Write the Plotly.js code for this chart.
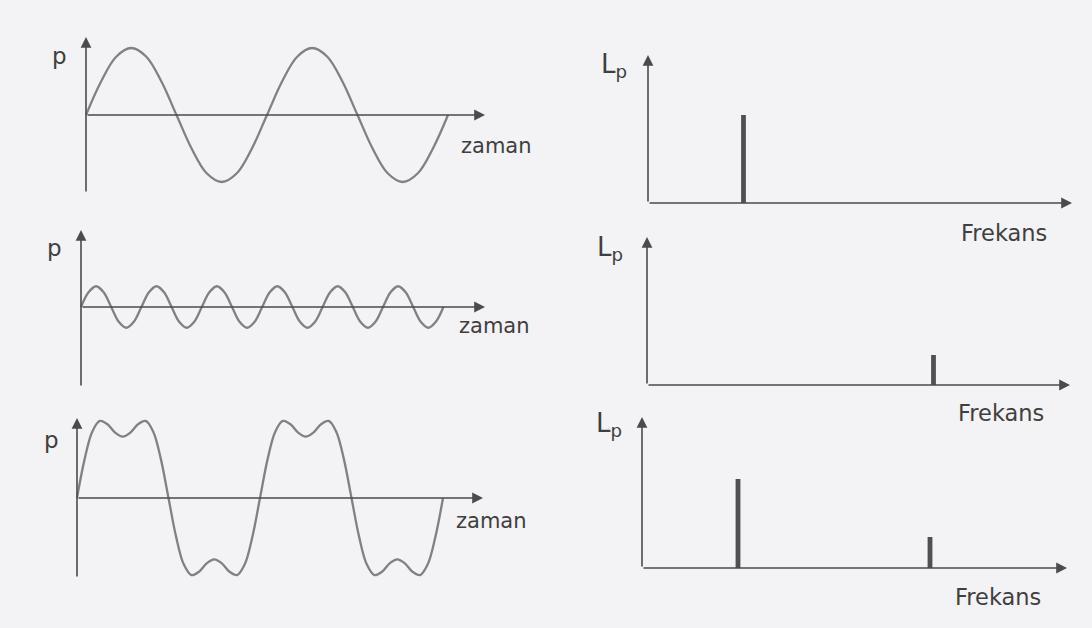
<!DOCTYPE html>
<html>
<head>
<meta charset="utf-8">
<script src="https://cdn.plot.ly/plotly-3.0.1.min.js"></script>
<style>
  html, body { margin: 0; padding: 0; background: #f3f2f4; }
  #fig { width: 1092px; height: 628px; }
</style>
</head>
<body>
<div id="fig"></div>
<script>
// ---- waveforms (pressure p versus time) ----
// pure tone, one cycle per 4 time units, sampled every 30 degrees
const toneStep = 4 / 12;
const toneP = [0, 0.5, 0.87, 1, 0.87, 0.5, 0, -0.5, -0.87, -1, -0.87, -0.5,
               0, 0.5, 0.87, 1, 0.87, 0.5, 0, -0.5, -0.87, -1, -0.87, -0.5, 0];

// higher tone, three times the frequency and a smaller amplitude, sampled every 45 degrees
const highStep = (4 / 3) / 8;
const highP = [0, 0.22, 0.31, 0.22, 0, -0.22, -0.31, -0.22,
               0, 0.22, 0.31, 0.22, 0, -0.22, -0.31, -0.22,
               0, 0.22, 0.31, 0.22, 0, -0.22, -0.31, -0.22,
               0, 0.22, 0.31, 0.22, 0, -0.22, -0.31, -0.22,
               0, 0.22, 0.31, 0.22, 0, -0.22, -0.31, -0.22,
               0, 0.22, 0.31, 0.22, 0, -0.22, -0.31, -0.22, 0];

// both tones together, sampled every 15 degrees of the low tone
const mixStep = 4 / 24;
const mixP = [0, 0.58, 0.99, 1.15, 1.10, 0.975, 0.915, 0.975, 1.10, 1.15, 0.99, 0.58,
              0, -0.58, -0.99, -1.15, -1.10, -0.975, -0.915, -0.975, -1.10, -1.15, -0.99, -0.58,
              0, 0.58, 0.99, 1.15, 1.10, 0.975, 0.915, 0.975, 1.10, 1.15, 0.99, 0.58,
              0, -0.58, -0.99, -1.15, -1.10, -0.975, -0.915, -0.975, -1.10, -1.15, -0.99, -0.58, 0];

// ---- spectra (level Lp versus frequency, low tone = 1) ----
const toneFreq = [1];    const toneLp = [88];
const highFreq = [3];    const highLp = [30];
const mixFreq  = [1, 3]; const mixLp  = [89, 31];

// ---- text ----
const pLabel = 'p';
const lpLabel = 'L<sub>p</sub>';
const timeLabel = 'zaman';
const freqLabel = 'Frekans';

// ---- page geometry (pixels) ----
const W = 1092, H = 628;
const FONT = 'DejaVu Sans, Verdana, sans-serif';
const AXIS_COLOR = '#4b4b4b';
const WAVE_COLOR = '#818181';
const TEXT_COLOR = '#3f3f3f';

// each panel: axis origin, pixels per unit, arrow tips and lower end of the vertical axis
const panels = [
  { ox: 86,  oy: 115, sx: 45.25, sy: 67, xTip: 485,  yTip: 37,  yBottom: 193 },
  { ox: 81,  oy: 307, sx: 45.3,  sy: 67, xTip: 485,  yTip: 230, yBottom: 387 },
  { ox: 77,  oy: 498, sx: 45.75, sy: 67, xTip: 483,  yTip: 418, yBottom: 578 },
  { ox: 648, oy: 203, sx: 95.5,  sy: 1,  xTip: 1072, yTip: 55,  yBottom: 203 },
  { ox: 647, oy: 385, sx: 95.5,  sy: 1,  xTip: 1070, yTip: 237, yBottom: 385 },
  { ox: 642, oy: 568, sx: 96,    sy: 1,  xTip: 1067, yTip: 417, yBottom: 568 }
];

const layout = {
  width: W, height: H,
  margin: { l: 0, r: 0, t: 0, b: 0, pad: 0 },
  paper_bgcolor: '#f3f2f4',
  plot_bgcolor: 'rgba(0,0,0,0)',
  showlegend: false,
  annotations: []
};

const PAD = 8;
panels.forEach((p, i) => {
  const n = i === 0 ? '' : String(i + 1);
  const left = p.ox - PAD, right = p.xTip + PAD;
  const top = p.yTip - PAD, bottom = p.yBottom + PAD;
  const hidden = { showgrid: false, zeroline: false, showline: false,
                   showticklabels: false, ticks: '', fixedrange: true };
  layout['xaxis' + n] = Object.assign({}, hidden, {
    domain: [left / W, right / W],
    range: [(left - p.ox) / p.sx, (right - p.ox) / p.sx],
    anchor: 'y' + n
  });
  layout['yaxis' + n] = Object.assign({}, hidden, {
    domain: [1 - bottom / H, 1 - top / H],
    range: [(p.oy - bottom) / p.sy, (p.oy - top) / p.sy],
    anchor: 'x' + n
  });
  const xr = 'x' + n, yr = 'y' + n;
  const arrow = { xref: xr, yref: yr, axref: xr, ayref: yr, text: '', showarrow: true,
                  arrowhead: 2, arrowsize: 1.35, arrowwidth: 1.6, arrowcolor: AXIS_COLOR, standoff: 0 };
  // horizontal axis
  layout.annotations.push(Object.assign({}, arrow, {
    x: (p.xTip - p.ox) / p.sx, y: 0, ax: 0, ay: 0 }));
  // vertical axis
  layout.annotations.push(Object.assign({}, arrow, {
    x: 0, y: (p.oy - p.yTip) / p.sy, ax: 0, ay: (p.oy - p.yBottom) / p.sy }));
});

function label(text, px, py, size, anchor) {
  layout.annotations.push({
    xref: 'paper', yref: 'paper', x: px / W, y: 1 - py / H,
    xanchor: anchor || 'left', yanchor: 'middle', showarrow: false,
    text: text, font: { family: FONT, size: size, color: TEXT_COLOR }
  });
}
label(pLabel, 59, 56, 23, 'center');
label(pLabel, 54, 248, 23, 'center');
label(pLabel, 51, 440, 23, 'center');
label(timeLabel, 459, 146, 21);
label(timeLabel, 457, 326, 21);
label(timeLabel, 454, 521, 21);
label(lpLabel, 614, 66, 26, 'center');
label(lpLabel, 610, 249, 26, 'center');
label(lpLabel, 609, 424, 26, 'center');
label(freqLabel, 1049, 233, 22.5, 'right');
label(freqLabel, 1046, 413, 22.5, 'right');
label(freqLabel, 1043, 597, 22.5, 'right');

function wave(values, step, n) {
  return {
    type: 'scatter', mode: 'lines',
    x: values.map((_, k) => k * step), y: values,
    line: { color: WAVE_COLOR, width: 2.3, shape: 'spline', smoothing: 1 },
    xaxis: 'x' + n, yaxis: 'y' + n, hoverinfo: 'skip', cliponaxis: false
  };
}
function spectrum(freq, lp, n) {
  return {
    type: 'bar', x: freq, y: lp, width: 0.05,
    marker: { color: '#505050', line: { width: 0 } },
    xaxis: 'x' + n, yaxis: 'y' + n, hoverinfo: 'skip'
  };
}

const data = [
  wave(toneP, toneStep, ''),
  wave(highP, highStep, '2'),
  wave(mixP, mixStep, '3'),
  spectrum(toneFreq, toneLp, '4'),
  spectrum(highFreq, highLp, '5'),
  spectrum(mixFreq, mixLp, '6')
];

Plotly.newPlot('fig', data, layout, { staticPlot: true, displayModeBar: false });
</script>
</body>
</html>
